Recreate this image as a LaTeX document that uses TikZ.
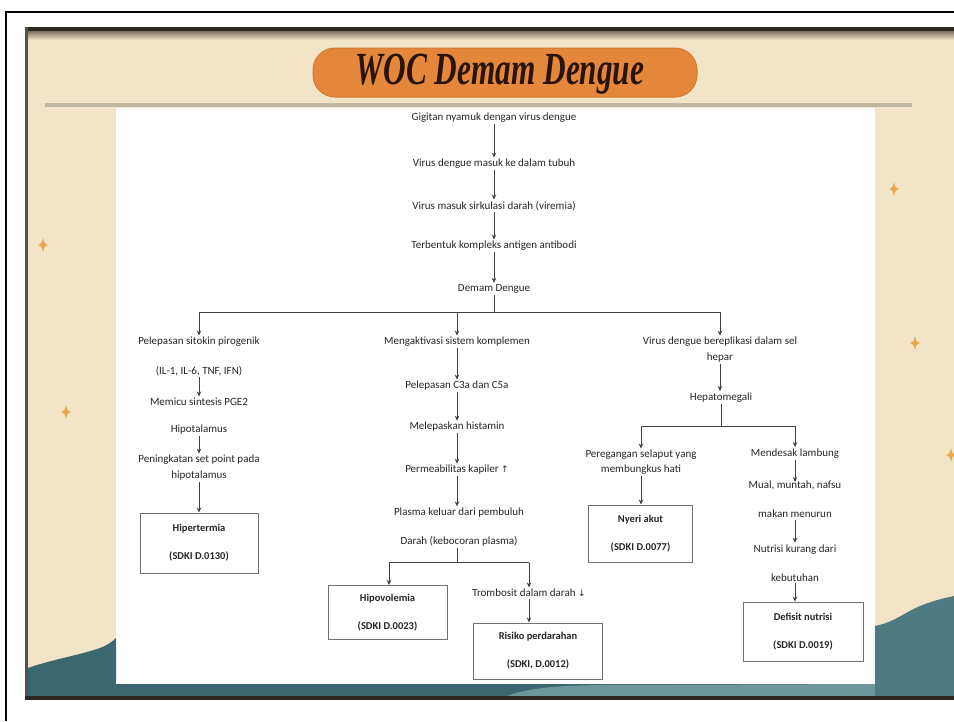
\documentclass[tikz,border=0pt]{standalone}
\usepackage{fontspec}
\setmainfont{Carlito}
\newfontfamily\titlefont{Liberation Serif}
\newfontfamily\symfont{DejaVu Sans}
\usetikzlibrary{arrows.meta}

\definecolor{slidecream}{HTML}{F2E5C7}
\definecolor{slideedge}{HTML}{2B2620}
\definecolor{rulegray}{HTML}{BDB7A3}
\definecolor{pillorange}{HTML}{E4873B}
\definecolor{pilledge}{HTML}{D57A30}
\definecolor{titleink}{HTML}{2A1409}
\definecolor{tealdark}{HTML}{3C6770}
\definecolor{tealmid}{HTML}{4F7A82}
\definecolor{teallight}{HTML}{6E979C}
\definecolor{starorange}{HTML}{EAA648}
\definecolor{textgray}{HTML}{262626}
\definecolor{linegray}{HTML}{404040}
\definecolor{boxgray}{HTML}{707070}

\tikzset{
  txt/.style={font=\fontsize{11}{13}\selectfont, text=textgray, inner sep=1.5pt, align=center},
  sdki/.style={draw=boxgray, line width=1pt, text=textgray, align=center, inner sep=0pt,
               font=\bfseries\fontsize{10.5}{28}\selectfont},
  arr/.style={draw=linegray, line width=0.7pt, -{Stealth[length=5pt,width=4.5pt]}},
  conn/.style={draw=linegray, line width=0.7pt},
  sparkle/.pic={\fill[starorange] (0,-7) .. controls (1.3,-1.5) .. (5,0) .. controls (1.3,1.5) .. (0,7)
                 .. controls (-1.3,1.5) .. (-5,0) .. controls (-1.3,-1.5) .. (0,-7) -- cycle;}
}

\begin{document}
\begin{tikzpicture}[x=1pt,y=-1pt]
\useasboundingbox (0,0) rectangle (954,721);
\fill[white] (0,0) rectangle (954,721);

% slide background
\fill[slidecream] (25,27) rectangle (954,699);
\fill[slideedge] (25,27) rectangle (954,31);
\shade[top color=slideedge!60!slidecream, bottom color=slidecream] (25,31) rectangle (954,40);
\fill[slideedge!80] (25,27) rectangle (28,699);

% decorative sparkles
\pic at (43,245) {sparkle};
\pic at (66,412) {sparkle};
\pic at (894,189) {sparkle};
\pic at (915,343) {sparkle};
\pic at (951,455) {sparkle};

% rule under the title
\draw[rulegray, line width=3.5pt] (45,105) -- (912,105);

% white panel holding the chart
\fill[white] (116,108) rectangle (875,684);

% teal waves along the bottom
\fill[tealdark] (28,699) -- (28,668) .. controls (50,660) and (80,655) .. (100,648)
      .. controls (108,645) and (113,641) .. (116,638) -- (116,699) -- cycle;
\fill[tealdark] (28,684) rectangle (954,699);
\fill[teallight] (500,699) .. controls (520,690) and (540,686) .. (600,685) -- (875,684) -- (875,699) -- cycle;
\fill[tealmid] (875,699) -- (875,626) .. controls (895,622) and (905,612) .. (920,606)
      .. controls (935,600) and (945,598) .. (954,596) -- (954,699) -- cycle;
\fill[slideedge] (25,696) rectangle (954,700);

% title banner
\draw[fill=pillorange, draw=pilledge, line width=1pt, rounded corners=22pt] (313,48) rectangle (697,97);
\node[anchor=base, text=titleink, inner sep=0pt] (title) at (500,84)
  {\scalebox{0.68}[1]{\titlefont\bfseries\itshape\fontsize{46}{46}\selectfont WOC Demam Dengue}};

% outer frame
\draw[black, line width=1.5pt] (6,721) -- (6,12) -- (954,12);

% ---- main chain ----
\node[txt] (t1) at (494,118) {Gigitan nyamuk dengan virus dengue};
\node[txt] (t2) at (494,164) {Virus dengue masuk ke dalam tubuh};
\node[txt] (t3) at (494,206) {Virus masuk sirkulasi darah (viremia)};
\node[txt] (t4) at (494,246) {Terbentuk kompleks antigen antibodi};
\node[txt] (t5) at (494,289) {Demam Dengue};
\draw[arr] (t1) -- (t2);
\draw[arr] (t2) -- (t3);
\draw[arr] (t3) -- (t4);
\draw[arr] (t4) -- (t5);

\coordinate (hub) at (494,312);
\coordinate (bL) at (199,312);
\coordinate (bM) at (457,312);
\coordinate (bR) at (720,312);
\draw[conn] (t5) -- (hub);
\draw[conn] (bL) -- (bR);

% ---- left branch ----
\node[txt] (l1) at (199,342) {Pelepasan sitokin pirogenik};
\node[txt] (l2) at (199,371) {(IL-1, IL-6, TNF, IFN)};
\node[txt] (l3) at (199,402) {Memicu sintesis PGE2};
\node[txt] (l4) at (199,430) {Hipotalamus};
\node[txt, font=\fontsize{11}{16}\selectfont] (l5) at (199,468) {Peningkatan set point pada\\hipotalamus};
\node[sdki, minimum width=118pt, minimum height=60pt] (lbox) at (199,543) {Hipertermia\\(SDKI D.0130)};
\draw[arr] (bL) -- (l1);
\draw[arr] (l2) -- (l3);
\draw[arr] (l4) -- (l5);
\draw[arr] (l5) -- (lbox);

% ---- middle branch ----
\node[txt] (m1) at (457,342) {Mengaktivasi sistem komplemen};
\node[txt] (m2) at (457,386) {Pelepasan C3a dan C5a};
\node[txt] (m3) at (457,427) {Melepaskan histamin};
\node[txt] (m4) at (457,470) {Permeabilitas kapiler {\symfont\fontsize{9}{11}\selectfont ↑}};
\node[txt, font=\fontsize{11}{28.5}\selectfont] (m5) at (459,527) {Plasma keluar dari pembuluh\\Darah (kebocoran plasma)};
\draw[arr] (bM) -- (m1);
\draw[arr] (m1) -- (m2);
\draw[arr] (m2) -- (m3);
\draw[arr] (m3) -- (m4);
\draw[arr] (m4) -- (m5.north -| m4);

\coordinate (mHub) at (457,562.5);
\coordinate (mL) at (389,562.5);
\coordinate (mR) at (529,562.5);
\draw[conn] (m5.south -| mHub) -- (mHub);
\draw[conn] (mL) -- (mR);

\node[sdki, minimum width=119pt, minimum height=54pt] (hipo) at (387.5,612.5) {Hipovolemia\\(SDKI D.0023)};
\node[txt] (trom) at (529,593) {Trombosit dalam darah {\symfont\fontsize{9}{11}\selectfont ↓}};
\node[sdki, minimum width=129pt, minimum height=56pt] (risk) at (538,651) {Risiko perdarahan\\(SDKI, D.0012)};
\draw[arr] (mL) -- (mL |- hipo.north);
\draw[arr] (mR) -- (mR |- trom.north);
\draw[arr] (trom.south -| mR) -- (mR |- risk.north);

% ---- right branch ----
\node[txt, font=\fontsize{11}{16}\selectfont] (r1) at (720,350) {Virus dengue bereplikasi dalam sel\\hepar};
\node[txt] (r2) at (721,397.5) {Hepatomegali};
\draw[arr] (bR) -- (r1);
\draw[arr] (r1) -- (r2.north -| r1);

\coordinate (rHub) at (721,426);
\coordinate (rL) at (641,426);
\coordinate (rR) at (795,426);
\draw[conn] (r2) -- (rHub);
\draw[conn] (rL) -- (rR);

\node[txt, font=\fontsize{11}{15}\selectfont] (r3) at (641,462.5) {Peregangan selaput yang\\membungkus hati};
\node[sdki, minimum width=104pt, minimum height=57pt] (nyeri) at (640.5,533.5) {Nyeri akut\\(SDKI D.0077)};
\draw[arr] (rL) -- (r3);
\draw[arr] (r3) -- (r3.south |- nyeri.north);

\node[txt] (r4) at (795,453.5) {Mendesak lambung};
\node[txt, font=\fontsize{11}{29}\selectfont] (r5) at (795,499.5) {Mual, muntah, nafsu\\makan menurun};
\coordinate (mualTip) at (795,482);
\node[txt, font=\fontsize{11}{29.5}\selectfont] (r6) at (795,563) {Nutrisi kurang dari\\kebutuhan};
\node[sdki, minimum width=120pt, minimum height=59pt] (defisit) at (803,631.5) {Defisit nutrisi\\(SDKI D.0019)};
\draw[arr] (rR) -- (r4);
\draw[arr] (r4) -- (mualTip);
\draw[arr] (r5) -- (r6);
\draw[arr] (r6) -- (r6.south |- defisit.north);
\end{tikzpicture}
\end{document}
